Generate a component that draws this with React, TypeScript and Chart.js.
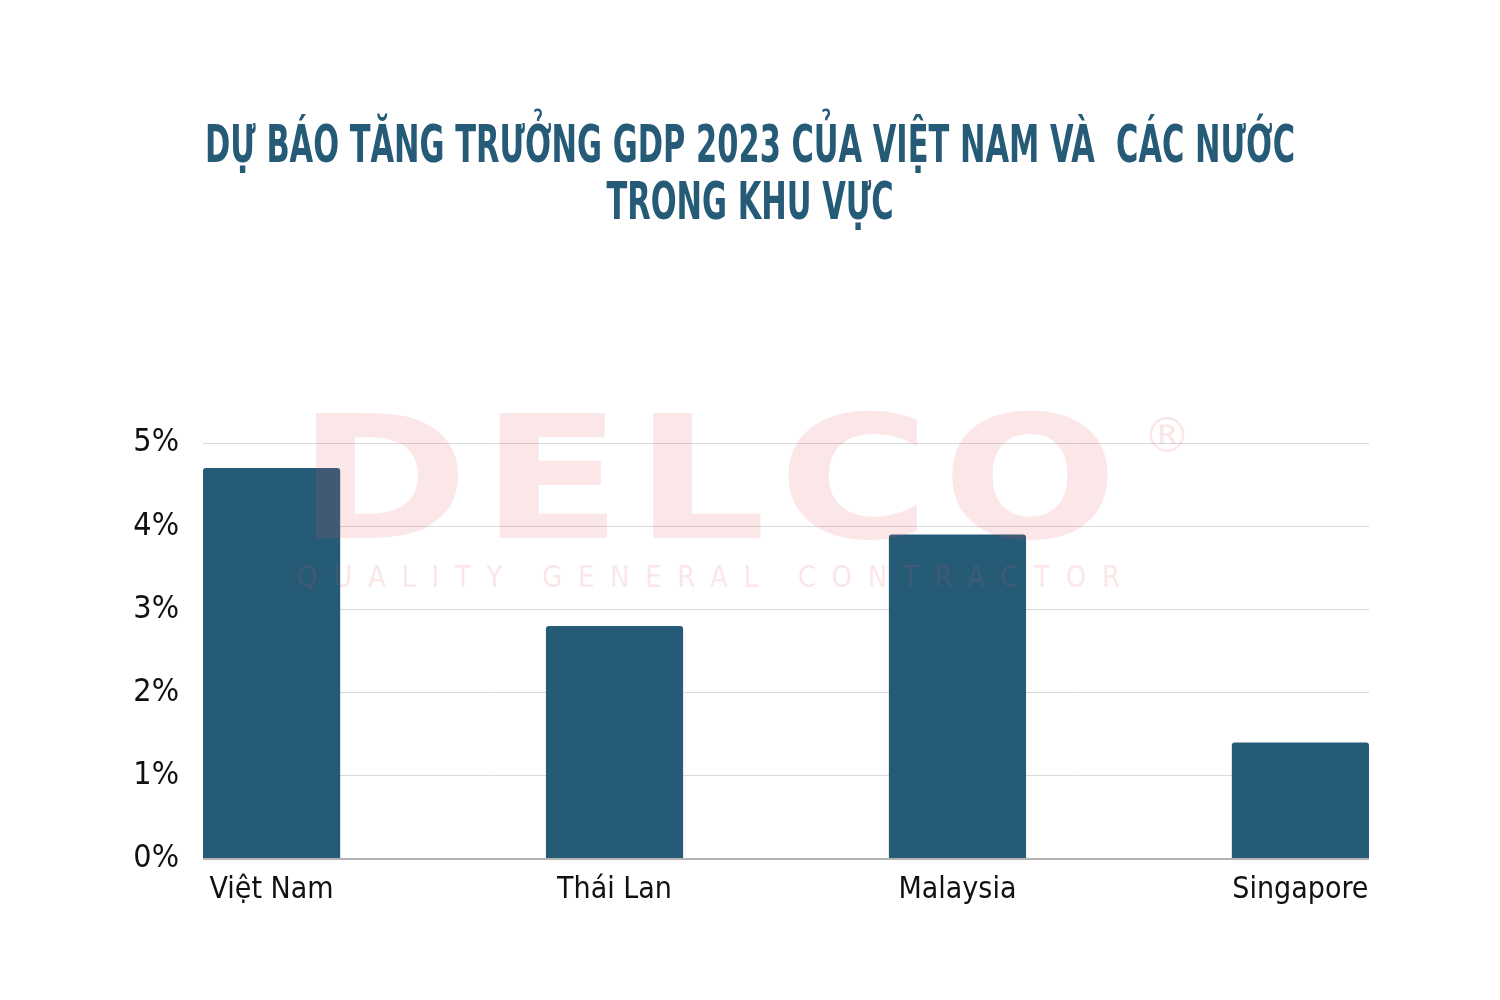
import React, { useEffect, useRef } from "react";
import { Chart, registerables } from "chart.js";

Chart.register(...registerables);

const CATEGORIES = ["Việt Nam", "Thái Lan", "Malaysia", "Singapore"];
const GDP_GROWTH = [4.7, 2.8, 3.9, 1.4];
const Y_MIN = 0;
const Y_MAX = 5;
const Y_STEP = 1;
const TITLE_LINES = [
  "DỰ BÁO TĂNG TRƯỞNG GDP 2023 CỦA VIỆT NAM VÀ  CÁC NƯỚC",
  "TRONG KHU VỰC",
];
const WATERMARK_MAIN = "DELCO";
const WATERMARK_SUB = "QUALITY GENERAL CONTRACTOR";
const WATERMARK_MARK = "®";

const BAR_COLOR = "#265B78";
const TITLE_COLOR = "#265B78";
const NARROW = "'Liberation Sans Narrow', 'DejaVu Sans Condensed', 'Roboto', sans-serif";

const titlePlugin = {
  id: "titleLines",
  afterDraw(chart: any) {
    const ctx = chart.ctx;
    ctx.save();
    ctx.fillStyle = TITLE_COLOR;
    ctx.font = `bold 51px ${NARROW}`;
    ctx.textAlign = "center";
    ctx.textBaseline = "alphabetic";
    const w = ctx.measureText(TITLE_LINES[0]).width;
    const sx = Math.min(1, 1090 / w);
    const baselines = [162, 219];
    TITLE_LINES.forEach((line, i) => {
      ctx.save();
      ctx.translate(750, baselines[i]);
      ctx.scale(sx, 1);
      ctx.fillText(line, 0, 0);
      ctx.restore();
    });
    ctx.restore();
  },
};

const watermarkPlugin = {
  id: "watermark",
  afterDatasetsDraw(chart: any) {
    const ctx = chart.ctx;
    ctx.save();
    ctx.fillStyle = "rgba(225, 80, 90, 0.14)";
    ctx.textBaseline = "alphabetic";
    ctx.textAlign = "left";
    ctx.font = `bold 172px 'DejaVu Sans', sans-serif`;
    (ctx as any).letterSpacing = "10px";
    let w = ctx.measureText(WATERMARK_MAIN).width;
    ctx.save();
    ctx.translate(297, 538);
    ctx.scale(833 / w, 1);
    ctx.fillText(WATERMARK_MAIN, 0, 0);
    ctx.restore();
    (ctx as any).letterSpacing = "0px";
    ctx.font = `48px 'DejaVu Sans', sans-serif`;
    ctx.fillText(WATERMARK_MARK, 1143, 452);
    ctx.font = `30px 'DejaVu Sans', sans-serif`;
    (ctx as any).letterSpacing = "18px";
    w = ctx.measureText(WATERMARK_SUB).width - 18;
    ctx.save();
    ctx.translate(297, 587);
    ctx.scale(823 / w, 1);
    ctx.fillText(WATERMARK_SUB, 0, 0);
    ctx.restore();
    ctx.restore();
  },
};

export default function App() {
  const ref = useRef<HTMLCanvasElement | null>(null);

  useEffect(() => {
    document.body.style.margin = "0";
    document.body.style.background = "#ffffff";
    const canvas = ref.current;
    if (!canvas) return;
    const chart = new Chart(canvas, {
      type: "bar",
      data: {
        datasets: [
          {
            data: CATEGORIES.map((_, i) => ({ x: i, y: GDP_GROWTH[i] })),
            backgroundColor: BAR_COLOR,
            borderRadius: { topLeft: 3, topRight: 3, bottomLeft: 0, bottomRight: 0 },
            borderSkipped: "bottom",
            barPercentage: 0.4,
            categoryPercentage: 1,
          },
        ],
      },
      options: {
        responsive: false,
        animation: false,
        layout: { padding: { left: 0, right: 131, top: 443, bottom: 0 } },
        plugins: {
          legend: { display: false },
          title: { display: false },
          tooltip: { enabled: false },
        },
        scales: {
          x: {
            type: "linear",
            offset: false,
            min: -0.2,
            max: CATEGORIES.length - 1 + 0.2,
            afterBuildTicks: (s: any) => {
              s.ticks = CATEGORIES.map((_, i) => ({ value: i }));
            },
            afterFit: (s: any) => {
              s.height = 141;
            },
            grid: { display: false, drawTicks: false, offset: false },
            border: { display: false },
            ticks: {
              autoSkip: false,
              maxRotation: 0,
              padding: 13,
              color: "#111111",
              font: { family: NARROW, size: 30 },
              callback: (v: any) => CATEGORIES[v] ?? "",
            },
          },
          y: {
            min: Y_MIN,
            max: Y_MAX,
            afterFit: (s: any) => {
              s.width = 203;
            },
            border: { display: false },
            grid: {
              drawTicks: false,
              color: (c: any) => (c.tick && c.tick.value === 0 ? "#b3b3b3" : "#d9d9d9"),
              lineWidth: (c: any) => (c.tick && c.tick.value === 0 ? 2 : 1),
            },
            ticks: {
              stepSize: Y_STEP,
              padding: 24,
              color: "#111111",
              font: { family: NARROW, size: 32 },
              callback: (v: any) => `${v}%`,
            },
          },
        },
      },
      plugins: [titlePlugin, watermarkPlugin],
    });
    return () => chart.destroy();
  }, []);

  return (
    <div style={{ width: 1500, height: 1000, background: "#ffffff" }}>
      <canvas ref={ref} width={1500} height={1000} style={{ display: "block" }} />
    </div>
  );
}
